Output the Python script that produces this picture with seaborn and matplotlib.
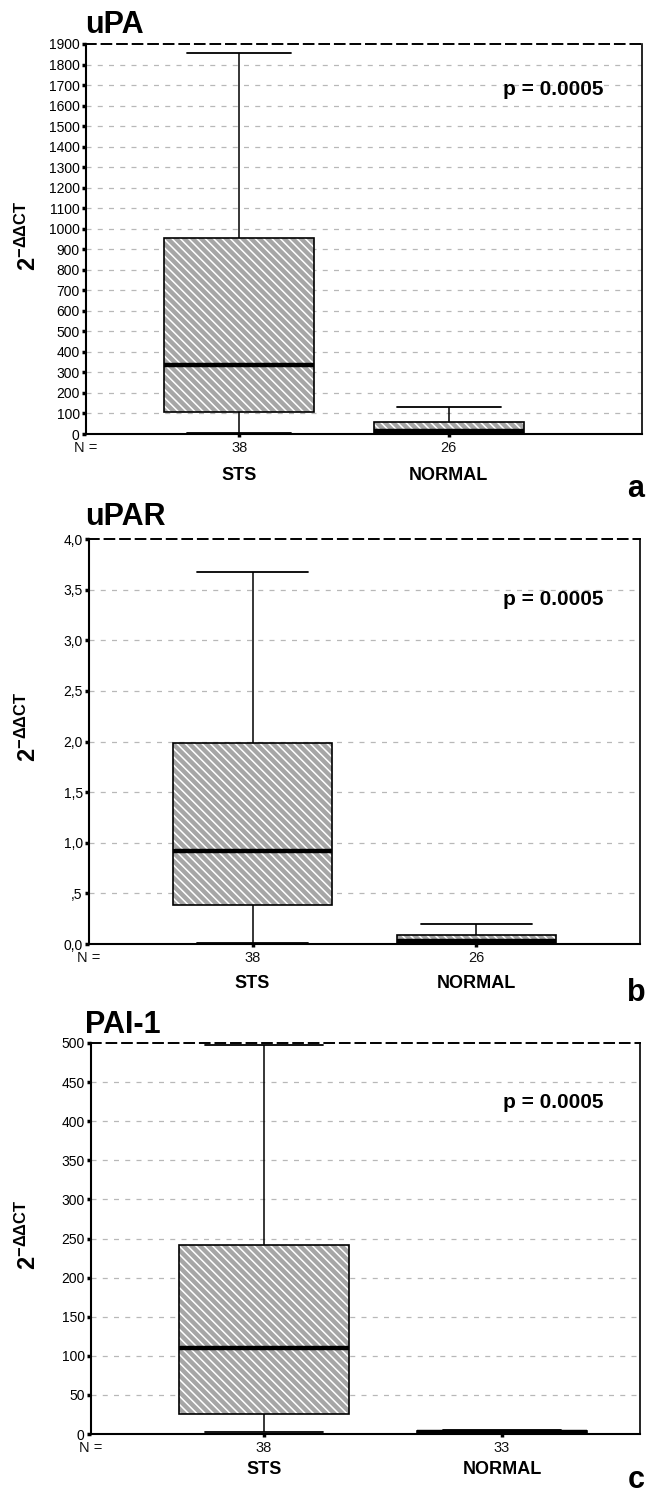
import numpy as np
import pandas as pd
import matplotlib
matplotlib.use("Agg")
import matplotlib.pyplot as plt
import seaborn as sns
from matplotlib.patches import PathPatch

# ---------------- data ----------------
groups = ["STS", "NORMAL"]
panel_titles = ["uPA", "uPAR", "PAI-1"]
panel_letters = ["a", "b", "c"]
n_upa = [38, 26]
n_upar = [38, 26]
n_pai = [38, 33]
p_label = "p = 0.0005"

# five-number summaries: [min, Q1, median, Q3, max]
upa_sts = [3, 106, 336, 957, 1855]
upa_normal = [0, 0.5, 15, 58, 130]
upar_sts = [0.005, 0.39, 0.92, 1.99, 3.67]
upar_normal = [0.0, 0.005, 0.025, 0.09, 0.20]
pai_sts = [3, 25, 110, 242, 497]
pai_normal = [0.5, 0.8, 2.0, 4.0, 4.5]

ticks_upa = [0, 100, 200, 300, 400, 500, 600, 700, 800, 900, 1000,
             1100, 1200, 1300, 1400, 1500, 1600, 1700, 1800, 1900]
labels_upa = [str(t) for t in ticks_upa]
ticks_upar = [0.0, 0.5, 1.0, 1.5, 2.0, 2.5, 3.0, 3.5, 4.0]
labels_upar = ["0,0", ",5", "1,0", "1,5", "2,0", "2,5", "3,0", "3,5", "4,0"]
ticks_pai = [0, 50, 100, 150, 200, 250, 300, 350, 400, 450, 500]
labels_pai = [str(t) for t in ticks_pai]

# ---------------- style ----------------
W, H = 651, 1493
sns.set_theme(style="white")
plt.rcParams["font.family"] = ["Liberation Sans", "DejaVu Sans"]
plt.rcParams["mathtext.fontset"] = "custom"
plt.rcParams["mathtext.rm"] = "Liberation Sans"
plt.rcParams["mathtext.bf"] = "Liberation Sans:bold"
plt.rcParams["hatch.linewidth"] = 1.1

GRAY = "#a6a6a6"
HATCH = "\\" * 4
BOX_W = 0.714
CAP_W = 0.495
PX = 0.72  # points per pixel at dpi 100

panels = [
    dict(title="uPA", sts=upa_sts, normal=upa_normal, n=n_upa,
         ticks=ticks_upa, labels=labels_upa, ylim=(0, 1900),
         rect=(86, 44, 642, 434), xlim=(-0.730, 1.921),
         title_base=33, p_base=95, ylab_y=236, grp_off=41, letter_y=489),
    dict(title="uPAR", sts=upar_sts, normal=upar_normal, n=n_upar,
         ticks=ticks_upar, labels=labels_upar, ylim=(0, 4.0),
         rect=(89, 539, 640, 944), xlim=(-0.730, 1.730),
         title_base=525, p_base=605, ylab_y=727, grp_off=39, letter_y=993),
    dict(title="PAI-1", sts=pai_sts, normal=pai_normal, n=n_pai,
         ticks=ticks_pai, labels=labels_pai, ylim=(0, 500),
         rect=(91, 1043, 640, 1434), xlim=(-0.727, 1.580),
         title_base=1033, p_base=1108, ylab_y=1235, grp_off=36, letter_y=1480),
]

fig = plt.figure(figsize=(W / 100, H / 100), dpi=100)
fig.patch.set_facecolor("white")


def fx(x):
    return x / W


def fy(y):
    return 1 - y / H


for k, P in enumerate(panels):
    l, t, r, b = P["rect"]
    ax = fig.add_axes([fx(l), fy(b), (r - l) / W, (b - t) / H])
    df = pd.DataFrame({
        "group": ["STS"] * len(P["sts"]) + ["NORMAL"] * len(P["normal"]),
        "value": list(P["sts"]) + list(P["normal"]),
    })
    sns.boxplot(data=df, x="group", y="value", order=groups, ax=ax,
                width=BOX_W, whis=(0, 100), color=GRAY, saturation=1,
                linecolor="black", linewidth=1.2, showfliers=False,
                medianprops=dict(color="black", linewidth=3.2),
                whiskerprops=dict(color="black", linewidth=1.1),
                capprops=dict(color="black", linewidth=1.3))

    # hatched fill with white stripes and black outline
    for p in list(ax.patches):
        p.set_facecolor(GRAY)
        p.set_edgecolor("white")
        p.set_hatch(HATCH)
        p.set_linewidth(0)
        ax.add_patch(PathPatch(p.get_path(), transform=p.get_transform(),
                               facecolor="none", edgecolor="black",
                               linewidth=1.2, zorder=p.get_zorder() + 0.05))

    # widen whisker caps
    for ln in ax.lines:
        xd = np.asarray(ln.get_xdata(), dtype=float)
        yd = np.asarray(ln.get_ydata(), dtype=float)
        if len(xd) == 2 and yd[0] == yd[1]:
            w = abs(xd[1] - xd[0])
            if 0.2 < w < BOX_W * 0.9:
                c = xd.mean()
                ln.set_xdata([c - CAP_W / 2, c + CAP_W / 2])

    ax.set_xlim(*P["xlim"])
    ax.set_ylim(*P["ylim"])
    ax.set_yticks(P["ticks"])
    ax.set_yticklabels(P["labels"])
    ax.set_xticks([0, 1])
    ax.set_xticklabels([])
    ax.set_xlabel("")
    ax.set_ylabel("")

    ax.set_axisbelow(True)
    ax.grid(axis="y", color="#b8b8b8", linestyle=(0, (4, 5)), linewidth=0.9)
    ax.grid(axis="x", visible=False)
    ax.yaxis.get_major_ticks()[-1].gridline.set_visible(False)

    ax.tick_params(axis="y", which="major", left=True, direction="out",
                   length=3, width=2.5, color="black", labelsize=10,
                   labelcolor="black", pad=1.5)
    ax.tick_params(axis="x", which="major", bottom=True, direction="out",
                   length=2, width=2.5, color="black")

    for side in ["left", "bottom"]:
        ax.spines[side].set_color("black")
        ax.spines[side].set_linewidth(1.5)
    ax.spines["right"].set_color("black")
    ax.spines["right"].set_linewidth(1.2)
    ax.spines["top"].set_color("black")
    ax.spines["top"].set_linewidth(1.4)
    ax.spines["top"].set_linestyle((0, (5, 3)))

    # N counts and group labels under the axis
    for i, g in enumerate(groups):
        ax.annotate(str(P["n"][i]), xy=(i, 0), xycoords=("data", "axes fraction"),
                    xytext=(0, -14 * PX), textcoords="offset points",
                    ha="center", va="center", fontsize=10.5, color="#111111")
        ax.annotate(g, xy=(i, 0), xycoords=("data", "axes fraction"),
                    xytext=(0, -P["grp_off"] * PX), textcoords="offset points",
                    ha="center", va="center", fontsize=13, fontweight="bold",
                    color="black")
    fig.text(fx(l), fy(b + 14), "N =", ha="center", va="center",
             fontsize=10.5, color="#111111")

    # title, p value, y label, panel letter
    fig.text(fx(85), fy(P["title_base"]), P["title"], ha="left", va="baseline",
             fontsize=22, fontweight="bold", color="black")
    fig.text(fx(503), fy(P["p_base"]), p_label, ha="left", va="baseline",
             fontsize=15, fontweight="bold", color="black")
    fig.text(fx(28), fy(P["ylab_y"]), r"$\mathbf{2^{-ΔΔCT}}$", rotation=90,
             ha="center", va="center", fontsize=17, color="black")
    fig.text(fx(636), fy(P["letter_y"]), panel_letters[k], ha="center",
             va="center", fontsize=22, fontweight="bold", color="black")

fig.savefig("out.png", dpi=100, facecolor="white")
